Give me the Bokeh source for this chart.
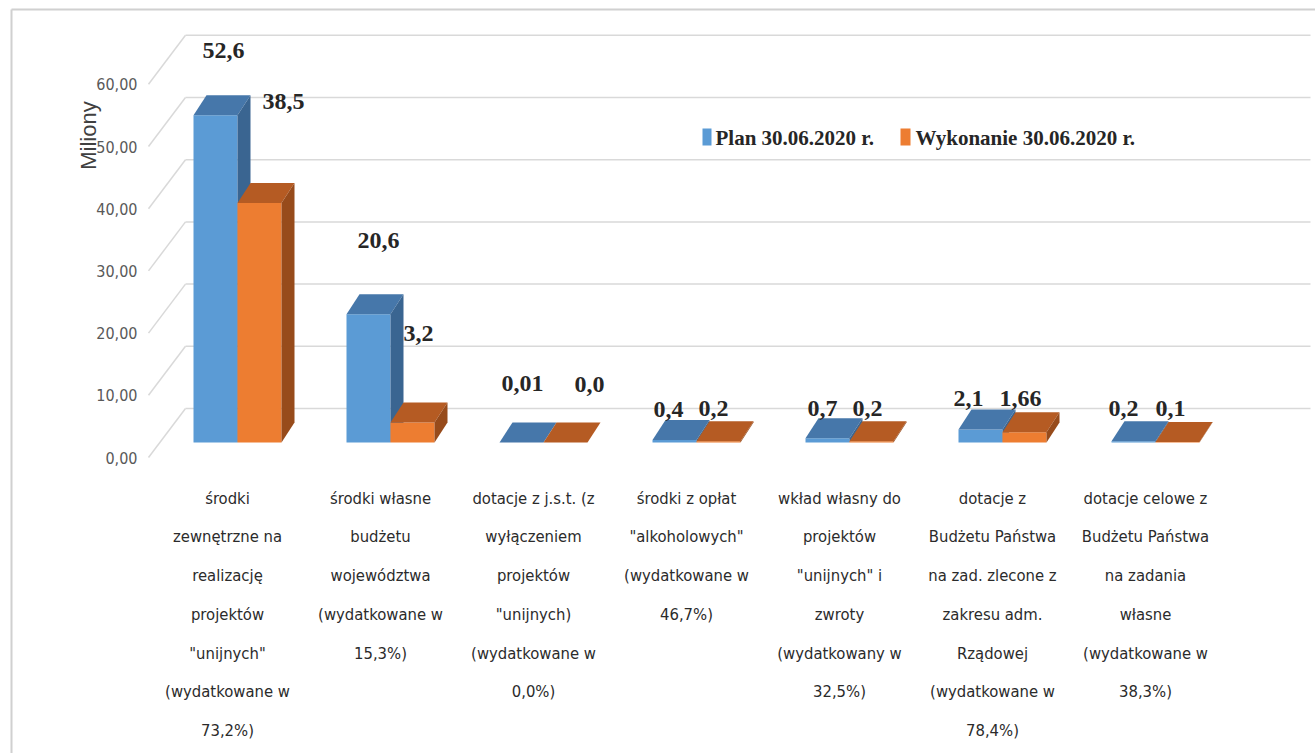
import math
from bokeh.plotting import figure
from bokeh.models import Range1d
from bokeh.core.properties import value
from bokeh.embed import file_html
from bokeh.resources import INLINE

# ---------------- data ----------------
categories = [
    "środki\nzewnętrzne na\nrealizację\nprojektów\n\"unijnych\"\n(wydatkowane w\n73,2%)",
    "środki własne\nbudżetu\nwojewództwa\n(wydatkowane w\n15,3%)",
    "dotacje z j.s.t. (z\nwyłączeniem\nprojektów\n\"unijnych)\n(wydatkowane w\n0,0%)",
    "środki z opłat\n\"alkoholowych\"\n(wydatkowane w\n46,7%)",
    "wkład własny do\nprojektów\n\"unijnych\" i\nzwroty\n(wydatkowany w\n32,5%)",
    "dotacje z\nBudżetu Państwa\nna zad. zlecone z\nzakresu adm.\nRządowej\n(wydatkowane w\n78,4%)",
    "dotacje celowe z\nBudżetu Państwa\nna zadania\nwłasne\n(wydatkowane w\n38,3%)",
]
plan = [52.6, 20.6, 0.01, 0.4, 0.7, 2.1, 0.2]
wykonanie = [38.5, 3.2, 0.0, 0.2, 0.2, 1.66, 0.1]
plan_labels = ["52,6", "20,6", "0,01", "0,4", "0,7", "2,1", "0,2"]
wyk_labels = ["38,5", "3,2", "0,0", "0,2", "0,2", "1,66", "0,1"]
y_ticks = [0, 10, 20, 30, 40, 50, 60]
y_tick_labels = ["0,00", "10,00", "20,00", "30,00", "40,00", "50,00", "60,00"]
series_names = ["Plan 30.06.2020 r.", "Wykonanie 30.06.2020 r."]

# ---------------- styling / geometry ----------------
W, H = 1315, 753
PX_X = 153.0     # pixels per category
PX_Y = 6.22      # pixels per unit (mln)
X0_PX = 237.0    # px of first category center
Y0_PX = 442.0    # px of bar base

def xd(px):
    return (px - X0_PX) / PX_X

def yd(py):
    return (Y0_PX - py) / PX_Y

BAR_W = 44 / PX_X
DEP_X = 13 / PX_X
DEP_Y = 20 / PX_Y
BACK_Y = 34 / PX_Y
FRONT_Y = 15 / PX_Y

BLUE = "#5b9bd5"; BLUE_TOP = "#4677aa"; BLUE_SIDE = "#3a6591"
ORANGE = "#ed7d31"; ORANGE_TOP = "#b55b23"; ORANGE_SIDE = "#974b1b"
GRID = "#d9d9d9"

# label offsets (px) relative to front-face top centre
plan_dx = [8, 10, 1, -6, -5, -12, -10]
plan_dy = [-65, -74, -59, -31, -30, -31, -33]
wyk_dx = [24, 6, 24, -5, -4, -4, -7]
wyk_dy = [-102, -89, -58, -33, -33, -34, -33]

SERIF = value("Liberation Serif")
NARROW = value("DejaVu Sans Condensed")

p = figure(width=W, height=H,
           x_range=Range1d(xd(0), xd(W)), y_range=Range1d(yd(H), yd(0)),
           output_backend="svg", toolbar_location=None, min_border=0,
           x_axis_location=None, y_axis_location=None)
p.grid.visible = False
p.outline_line_color = None
p.background_fill_color = "white"
p.border_fill_color = "white"

# chart frame (top & left edges)
p.segment(x0=[xd(11), xd(11)], y0=[yd(9), yd(9)], x1=[xd(1315), xd(11)], y1=[yd(9), yd(760)],
          line_color="#d0d0d0", line_width=2)

# gridlines (back wall + side wall diagonals)
p.segment(x0=[xd(185)] * len(y_ticks), y0=[t + BACK_Y for t in y_ticks],
          x1=[xd(1310)] * len(y_ticks), y1=[t + BACK_Y for t in y_ticks],
          line_color=GRID, line_width=1.5)
p.segment(x0=[xd(148)] * len(y_ticks), y0=[t - FRONT_Y for t in y_ticks],
          x1=[xd(185)] * len(y_ticks), y1=[t + BACK_Y for t in y_ticks],
          line_color=GRID, line_width=1.5)

# y tick labels
p.text(x=[xd(137)] * len(y_ticks), y=[t - FRONT_Y for t in y_ticks], text=y_tick_labels,
       text_font=NARROW, text_font_size="16px", text_color="#595959",
       text_align="right", text_baseline="middle")

# axis title
p.text(x=[xd(88)], y=[yd(135)], text=["Miliony"], angle=math.pi / 2,
       text_font=value("Liberation Sans"), text_font_size="22px", text_color="#404040",
       text_align="center", text_baseline="middle")

# 3D bars
def draw_bars(vals, offset, front, top, side):
    n = len(vals)
    left = [i + offset for i in range(n)]
    right = [l + BAR_W for l in left]
    p.quad(left=left, right=right, bottom=[0] * n, top=vals, fill_color=front, line_color=None)
    p.patches(xs=[[l, r, r + DEP_X, l + DEP_X] for l, r in zip(left, right)],
              ys=[[v, v, v + DEP_Y, v + DEP_Y] for v in vals],
              fill_color=top, line_color=None)
    p.patches(xs=[[r, r + DEP_X, r + DEP_X, r] for r in right],
              ys=[[0, DEP_Y, v + DEP_Y, v] for v in vals],
              fill_color=side, line_color=None)

draw_bars(plan, -BAR_W, BLUE, BLUE_TOP, BLUE_SIDE)
draw_bars(wykonanie, 0.0, ORANGE, ORANGE_TOP, ORANGE_SIDE)

# value labels
def draw_labels(vals, labels, offset, dxs, dys):
    xs = [i + offset + BAR_W / 2 + dx / PX_X for i, dx in enumerate(dxs)]
    ys = [v - dy / PX_Y for v, dy in zip(vals, dys)]
    p.text(x=xs, y=ys, text=labels, text_font=SERIF, text_font_style="bold",
           text_font_size="24px", text_color="#262626",
           text_align="center", text_baseline="middle")

draw_labels(plan, plan_labels, -BAR_W, plan_dx, plan_dy)
draw_labels(wykonanie, wyk_labels, 0.0, wyk_dx, wyk_dy)

# category labels
cat_x = [i - 10 / PX_X for i in range(len(categories))]
p.text(x=cat_x, y=[yd(488)] * len(categories), text=categories,
       text_font=NARROW, text_font_size="16.5px", text_color="#2b2b2b",
       text_align="center", text_baseline="top", text_line_height=2.04)

# legend
p.quad(left=[xd(702), xd(900)], right=[xd(711), xd(910)],
       bottom=[yd(145), yd(145)], top=[yd(128), yd(128)],
       fill_color=[BLUE, ORANGE], line_color=None)
p.text(x=[xd(715), xd(915)], y=[yd(137), yd(137)], text=series_names,
       text_font=SERIF, text_font_style="bold", text_font_size="21px",
       text_color="#262626", text_align="left", text_baseline="middle")

open("out.html", "w").write(file_html(p, INLINE))
